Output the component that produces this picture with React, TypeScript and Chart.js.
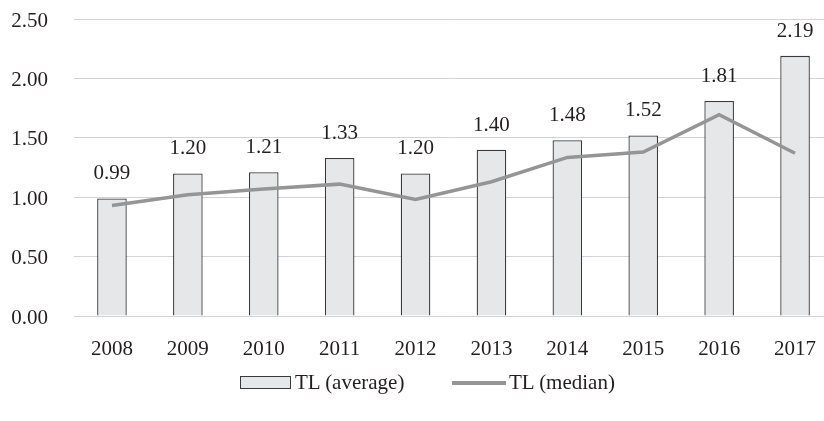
import React, { useEffect, useRef } from "react";
import { Chart, registerables } from "chart.js";

Chart.register(...registerables);

const years = ["2008", "2009", "2010", "2011", "2012", "2013", "2014", "2015", "2016", "2017"];
const averageTL = [0.99, 1.2, 1.21, 1.33, 1.2, 1.4, 1.48, 1.52, 1.81, 2.19];
const medianTL = [0.93, 1.02, 1.07, 1.11, 0.98, 1.13, 1.335, 1.38, 1.695, 1.37];
const averageLabel = "TL (average)";
const medianLabel = "TL (median)";
const yMin = 0;
const yMax = 2.5;
const yStep = 0.5;

const FONT = '"Liberation Serif", "Times New Roman", serif';
const TEXT = "#231f20";
const BAR_FILL = "#e6e7e8";
const BAR_BORDER = "#3a3a3a";
const LINE = "#959595";

const valueLabels = {
  id: "valueLabels",
  afterDatasetsDraw(chart: any) {
    const meta = chart.getDatasetMeta(0);
    const ctx = chart.ctx;
    ctx.save();
    ctx.font = `21px ${FONT}`;
    ctx.fillStyle = TEXT;
    ctx.textAlign = "center";
    ctx.textBaseline = "alphabetic";
    meta.data.forEach((el: any, i: number) => {
      ctx.fillText(averageTL[i].toFixed(2), el.x, el.y - 19);
    });
    ctx.restore();
  },
};

export default function App() {
  const ref = useRef<HTMLCanvasElement | null>(null);

  useEffect(() => {
    if (!ref.current) return;
    const chart = new Chart(ref.current, {
      type: "bar",
      data: {
        labels: years,
        datasets: [
          {
            type: "bar",
            label: averageLabel,
            data: averageTL,
            backgroundColor: BAR_FILL,
            borderColor: BAR_BORDER,
            borderWidth: 1.3,
            barPercentage: 0.39,
            categoryPercentage: 1,
            order: 1,
          },
          {
            type: "line",
            label: medianLabel,
            data: medianTL,
            borderColor: LINE,
            backgroundColor: LINE,
            borderWidth: 3.5,
            pointRadius: 0,
            tension: 0,
            order: 0,
          },
        ],
      } as any,
      options: {
        responsive: false,
        animation: false,
        devicePixelRatio: 1,
        layout: { padding: { left: 0, right: 41, top: 19, bottom: 0 } },
        plugins: {
          legend: { display: false },
          tooltip: { enabled: false },
        },
        scales: {
          x: {
            grid: { display: false },
            border: { display: false },
            ticks: {
              color: TEXT,
              font: { family: FONT, size: 21 },
              padding: 13,
              maxRotation: 0,
            },
            afterFit: (s: any) => {
              s.height = 105;
            },
          },
          y: {
            min: yMin,
            max: yMax,
            grid: { color: "#d1d3d4", lineWidth: 1, drawTicks: false },
            border: { display: false },
            ticks: {
              stepSize: yStep,
              color: TEXT,
              font: { family: FONT, size: 21 },
              padding: 26,
              labelOffset: 2,
              callback: (v: any) => Number(v).toFixed(2),
            },
            afterFit: (s: any) => {
              s.width = 74;
              s.paddingTop = 0;
              s.paddingBottom = 0;
            },
          },
        },
      } as any,
      plugins: [valueLabels],
    });
    return () => chart.destroy();
  }, []);

  const textStyle: React.CSSProperties = {
    position: "absolute",
    top: 370,
    height: 24,
    lineHeight: "24px",
    fontFamily: FONT,
    fontSize: 21,
    color: TEXT,
    whiteSpace: "nowrap",
  };

  return (
    <div
      style={{
        position: "absolute",
        left: 0,
        top: 0,
        width: 824,
        height: 421,
        overflow: "hidden",
        background: "#fff",
      }}
    >
      <canvas ref={ref} width={874} height={421} style={{ display: "block", width: 874, height: 421 }} />
      <div
        style={{
          position: "absolute",
          left: 240,
          top: 376,
          width: 51,
          height: 13,
          boxSizing: "border-box",
          background: BAR_FILL,
          border: `1px solid ${BAR_BORDER}`,
        }}
      />
      <div style={{ ...textStyle, left: 295 }}>{averageLabel}</div>
      <div
        style={{
          position: "absolute",
          left: 452,
          top: 381,
          width: 54,
          height: 4,
          background: LINE,
        }}
      />
      <div style={{ ...textStyle, left: 509 }}>{medianLabel}</div>
    </div>
  );
}
